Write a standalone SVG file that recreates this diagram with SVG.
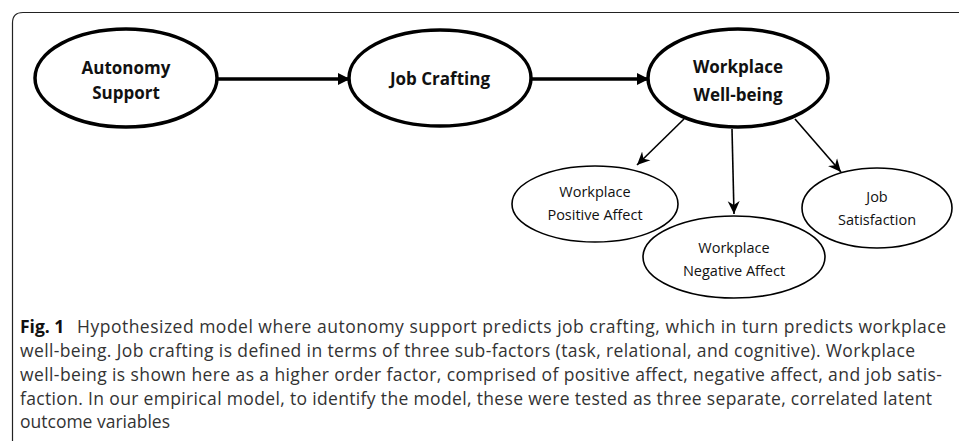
<svg xmlns="http://www.w3.org/2000/svg" width="959" height="441" viewBox="0 0 959 441">
<defs>
<style>
.big{fill:#fff;stroke:#000;stroke-width:3.5}
.sm{fill:#fff;stroke:#000;stroke-width:1.6}
.bt{font-family:"Open Sans","Noto Sans",sans-serif;font-weight:bold;font-size:17px;fill:#111;text-anchor:middle}
.st{font-family:"Open Sans","Noto Sans",sans-serif;font-size:14.5px;fill:#111;text-anchor:middle}
.cap{font-family:"Open Sans","Noto Sans",sans-serif;font-size:17.5px;fill:#333}
.thick{stroke:#000;stroke-width:3.5;fill:none}
.thin{stroke:#000;stroke-width:1.6;fill:none}
</style>
<marker id="ah" markerWidth="12" markerHeight="12" viewBox="0 0 12 12" refX="11" refY="6" orient="auto" markerUnits="userSpaceOnUse">
<path d="M0,0 L12,6 L0,12 z" fill="#000"/>
</marker>
<marker id="ahs" markerWidth="14" markerHeight="14" viewBox="0 0 14 14" refX="13" refY="7" orient="auto" markerUnits="userSpaceOnUse">
<path d="M0,1 L13,7 L0,13 L4,7 z" fill="#000"/>
</marker>
</defs>
<rect width="959" height="441" fill="#fff"/>
<path d="M12.5,441 V23 Q12.5,12.5 23,12.5 H959" fill="none" stroke="#222" stroke-width="1.2"/>
<g id="connectors">
<line class="thick" x1="218" y1="79" x2="349" y2="79" marker-end="url(#ah)"/>
<line class="thick" x1="532" y1="79" x2="648" y2="79" marker-end="url(#ah)"/>
<line class="thin" x1="684" y1="119" x2="637" y2="165" marker-end="url(#ahs)"/>
<line class="thin" x1="732" y1="129" x2="734" y2="214" marker-end="url(#ahs)"/>
<line class="thin" x1="795" y1="119" x2="841" y2="172" marker-end="url(#ahs)"/>
</g>
<g id="autonomy">
<ellipse class="big" cx="126" cy="78" rx="91" ry="49"/>
<text class="bt" x="126" y="74">Autonomy</text>
<text class="bt" x="126" y="99">Support</text>
</g>
<g id="jobcrafting">
<ellipse class="big" cx="440" cy="78" rx="91" ry="48"/>
<text class="bt" x="440" y="85">Job Crafting</text>
</g>
<g id="wellbeing">
<ellipse class="big" cx="738" cy="78" rx="90" ry="49"/>
<text class="bt" x="738" y="73">Workplace</text>
<text class="bt" x="738" y="101">Well-being</text>
</g>
<g id="positive">
<ellipse class="sm" cx="595" cy="204" rx="83" ry="38"/>
<text class="st" x="595" y="197">Workplace</text>
<text class="st" x="595" y="220">Positive Affect</text>
</g>
<g id="negative">
<ellipse class="sm" cx="734" cy="257" rx="91" ry="41"/>
<text class="st" x="734" y="253">Workplace</text>
<text class="st" x="734" y="276">Negative Affect</text>
</g>
<g id="satisfaction">
<ellipse class="sm" cx="877" cy="208" rx="75" ry="40"/>
<text class="st" x="877" y="202">Job</text>
<text class="st" x="877" y="225">Satisfaction</text>
</g>
<g id="caption">
<text class="cap" x="20" y="333" font-size="18.5px"><tspan font-weight="bold" fill="#111">Fig. 1</tspan></text>
<text class="cap" x="77" y="333" textLength="869" lengthAdjust="spacing">Hypothesized model where autonomy support predicts job crafting, which in turn predicts workplace</text>
<text class="cap" x="20" y="357" textLength="895" lengthAdjust="spacing">well-being. Job crafting is defined in terms of three sub-factors (task, relational, and cognitive). Workplace</text>
<text class="cap" x="20" y="381" textLength="922" lengthAdjust="spacing">well-being is shown here as a higher order factor, comprised of positive affect, negative affect, and job satis-</text>
<text class="cap" x="20" y="405" textLength="912" lengthAdjust="spacing">faction. In our empirical model, to identify the model, these were tested as three separate, correlated latent</text>
<text class="cap" x="20" y="428">outcome variables</text>
</g>
</svg>
